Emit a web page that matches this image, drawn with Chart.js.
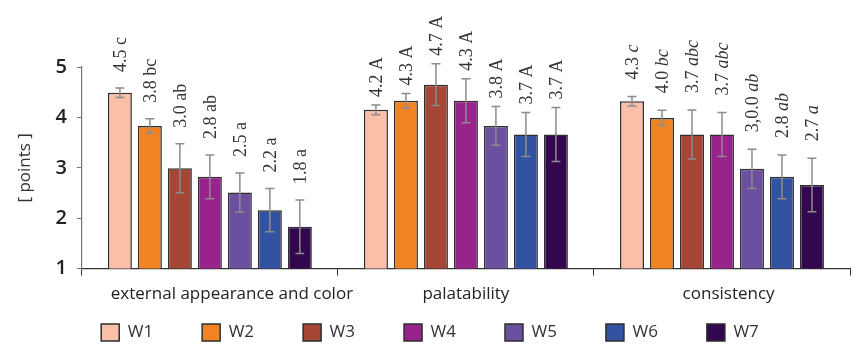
<!DOCTYPE html>
<html lang="en">
<head>
  <meta charset="UTF-8">
  <title>Sensory evaluation W1-W7</title>
  <script src="https://cdn.jsdelivr.net/npm/chart.js"></script>
  <style>
    html, body {
      margin: 0;
      padding: 0;
      background-color: #ffffff;
    }
  </style>
</head>
<body>

  <canvas id="sensoryChart" width="856" height="345"></canvas>

  <script>
    // categories on the x axis
    const categories = ['external appearance and color', 'palatability', 'consistency'];
    const seriesNames = ['W1', 'W2', 'W3', 'W4', 'W5', 'W6', 'W7'];
    const seriesColors = ['#F9BFA7', '#F28322', '#A64636', '#98238A', '#6A509F', '#3352A2', '#33074F'];
    const yTicks = [1, 2, 3, 4, 5];

    // mean scores: appearance, palatability, consistency
    const w1Mean = [4.49, 4.15, 4.32];
    const w2Mean = [3.83, 4.33, 3.99];
    const w3Mean = [2.99, 4.65, 3.66];
    const w4Mean = [2.82, 4.33, 3.66];
    const w5Mean = [2.51, 3.83, 2.98];
    const w6Mean = [2.16, 3.66, 2.82];
    const w7Mean = [1.83, 3.66, 2.66];

    // +/- error
    const w1Err = [0.095, 0.095, 0.095];
    const w2Err = [0.145, 0.145, 0.15];
    const w3Err = [0.485, 0.415, 0.485];
    const w4Err = [0.435, 0.435, 0.435];
    const w5Err = [0.385, 0.385, 0.39];
    const w6Err = [0.43, 0.435, 0.435];
    const w7Err = [0.53, 0.535, 0.53];

    // value + significance letters printed above each bar
    const w1Text = ['4.5 c', '4.2 A', '4.3 c'];
    const w2Text = ['3.8 bc', '4.3 A', '4.0 bc'];
    const w3Text = ['3.0 ab', '4.7 A', '3.7 abc'];
    const w4Text = ['2.8 ab', '4.3 A', '3.7 abc'];
    const w5Text = ['2.5 a', '3.8 A', '3,0.0 ab'];
    const w6Text = ['2.2 a', '3.7 A', '2.8 ab'];
    const w7Text = ['1.8 a', '3.7 A', '2.7 a'];

    const means = [w1Mean, w2Mean, w3Mean, w4Mean, w5Mean, w6Mean, w7Mean];
    const errs = [w1Err, w2Err, w3Err, w4Err, w5Err, w6Err, w7Err];
    const texts = [w1Text, w2Text, w3Text, w4Text, w5Text, w6Text, w7Text];

    // letters in italics only for the last group
    const italicLetters = [false, false, true];
    const labelGap = [16, 8, 17];

    // error bars
    const errorBarPlugin = {
      id: 'errorBars',
      afterDatasetsDraw(chart) {
        const ctx = chart.ctx;
        const y = chart.scales.y;
        ctx.save();
        ctx.strokeStyle = '#8c8c8c';
        ctx.lineWidth = 1.5;
        chart.data.datasets.forEach((ds, di) => {
          chart.getDatasetMeta(di).data.forEach((bar, i) => {
            const hi = y.getPixelForValue(ds.data[i] + ds.errors[i]);
            const lo = y.getPixelForValue(ds.data[i] - ds.errors[i]);
            ctx.beginPath();
            ctx.moveTo(bar.x, hi);
            ctx.lineTo(bar.x, lo);
            ctx.moveTo(bar.x - 4.5, hi);
            ctx.lineTo(bar.x + 4.5, hi);
            ctx.moveTo(bar.x - 4.5, lo);
            ctx.lineTo(bar.x + 4.5, lo);
            ctx.stroke();
          });
        });
        ctx.restore();
      }
    };

    // rotated labels above the error bars
    const barLabelPlugin = {
      id: 'barLabels',
      afterDatasetsDraw(chart) {
        const ctx = chart.ctx;
        const y = chart.scales.y;
        chart.data.datasets.forEach((ds, di) => {
          chart.getDatasetMeta(di).data.forEach((bar, i) => {
            const text = ds.labelsText[i];
            const cut = text.indexOf(' ');
            const num = text.slice(0, cut + 1);
            const letters = text.slice(cut + 1);
            const top = y.getPixelForValue(ds.data[i] + ds.errors[i]);
            ctx.save();
            ctx.translate(bar.x + 1, top - labelGap[i]);
            ctx.rotate(-Math.PI / 2);
            ctx.fillStyle = '#333';
            ctx.textAlign = 'left';
            ctx.textBaseline = 'middle';
            ctx.font = '18px "Liberation Serif", serif';
            ctx.fillText(num, 0, 0);
            const w = ctx.measureText(num).width;
            ctx.font = (italicLetters[i] ? 'italic ' : '') + '18px "Liberation Serif", serif';
            ctx.fillText(letters, w, 0);
            ctx.restore();
          });
        });
      }
    };

    new Chart(document.getElementById('sensoryChart'), {
      type: 'bar',
      data: {
        labels: ['          ' + categories[0], categories[1], '   ' + categories[2]],
        datasets: seriesNames.map((name, k) => ({
          label: name,
          data: means[k],
          errors: errs[k],
          labelsText: texts[k],
          backgroundColor: seriesColors[k],
          borderColor: '#2e2e2e',
          borderWidth: 1.5,
          borderSkipped: false,
          barPercentage: 0.8,
          categoryPercentage: 0.82
        }))
      },
      options: {
        responsive: false,
        animation: false,
        layout: {
          padding: { top: 67, right: 6, left: 10, bottom: -6 }
        },
        plugins: {
          tooltip: { enabled: false },
          legend: {
            position: 'bottom',
            labels: {
              color: '#333',
              boxWidth: 18,
              boxHeight: 17,
              padding: 12,
              font: { family: '"Open Sans", sans-serif', size: 17 },
              generateLabels(chart) {
                const items = Chart.defaults.plugins.legend.labels.generateLabels(chart);
                // widen the gaps between entries, not after the last one
                items.forEach((it, i) => {
                  if (i < items.length - 1) it.text = it.text + '        \u200A';
                });
                return items;
              }
            }
          }
        },
        scales: {
          x: {
            grid: {
              offset: true,
              drawOnChartArea: false,
              drawTicks: true,
              tickLength: 7,
              color: '#333'
            },
            border: { color: '#333', width: 1.2 },
            ticks: {
              color: '#222',
              padding: 8,
              maxRotation: 0,
              minRotation: 0,
              autoSkip: false,
              font: { family: '"Open Sans", sans-serif', size: 17 }
            }
          },
          y: {
            min: 1,
            max: 5,
            afterBuildTicks(axis) {
              axis.ticks = yTicks.map(v => ({ value: v }));
            },
            grid: {
              drawOnChartArea: false,
              drawTicks: true,
              tickLength: 5,
              color: '#777'
            },
            border: { color: '#777', width: 1.2 },
            ticks: {
              color: '#222',
              padding: 10,
              font: { family: '"Open Sans", sans-serif', size: 20, weight: '600' }
            },
            title: {
              display: true,
              text: '[ points ]',
              color: '#333',
              padding: { top: 5, bottom: 10 },
              font: { family: '"Open Sans", sans-serif', size: 17 }
            }
          }
        }
      },
      plugins: [errorBarPlugin, barLabelPlugin]
    });
  </script>

</body>
</html>
